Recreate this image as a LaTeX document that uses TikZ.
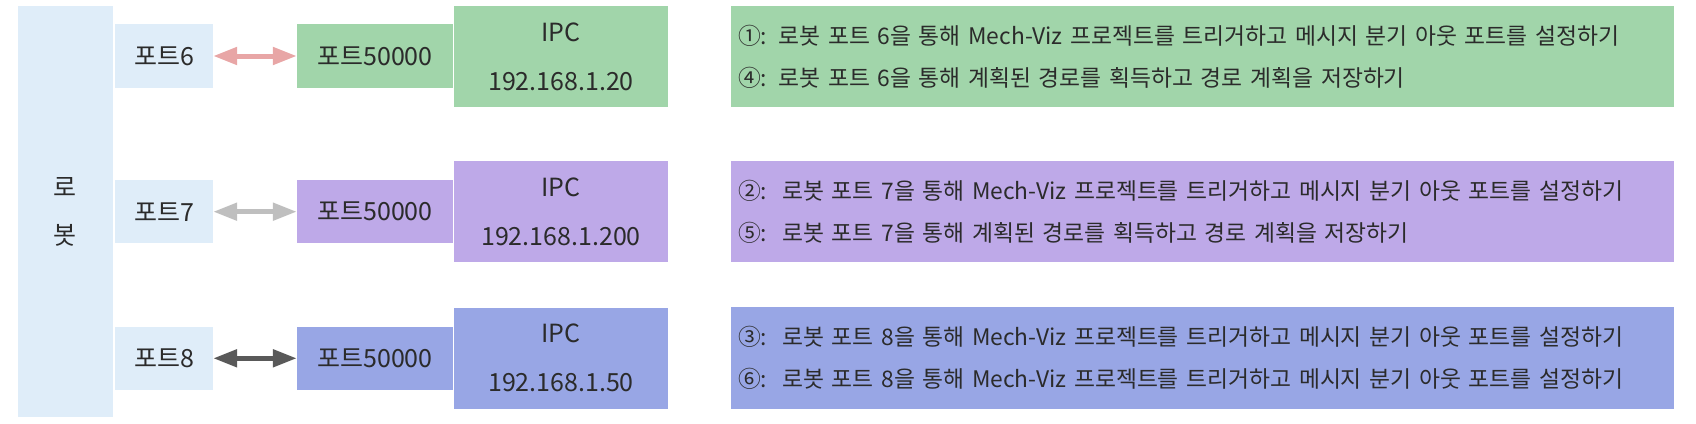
\documentclass[tikz,border=0pt]{standalone}
\usepackage{fontspec}
\setmainfont{Noto Sans CJK KR}
\usetikzlibrary{arrows.meta}
\definecolor{lightbox}{HTML}{DFEDF9}
\definecolor{greenbox}{HTML}{A1D5AA}
\definecolor{purplebox}{HTML}{BEA9E8}
\definecolor{bluebox}{HTML}{98A6E5}
\definecolor{pinkarrow}{HTML}{E8A6A6}
\definecolor{greyarrow}{HTML}{BFBFBF}
\definecolor{darkarrow}{HTML}{595959}
\definecolor{txt}{HTML}{2B2B2B}
\begin{document}
\begin{tikzpicture}[x=1pt,y=-1pt,
  basebox/.style={rectangle, inner sep=0pt, text=txt, draw=none, align=center},
  robotbox/.style={basebox, fill=lightbox, minimum width=95.3pt, minimum height=411.6pt, font=\fontsize{25}{48}\selectfont},
  portbox/.style={basebox, fill=lightbox, minimum width=98pt, minimum height=63.5pt, font=\fontsize{25}{30}\selectfont},
  kbox/.style={basebox, minimum width=156pt, minimum height=63.5pt, font=\fontsize{25}{30}\selectfont},
  ipcbox/.style={basebox, minimum width=214pt, minimum height=101.3pt, font=\fontsize{25}{49}\selectfont},
  descbox/.style={rectangle, draw=none, text=txt, inner xsep=7pt, inner ysep=0pt, text width=929pt, align=left, minimum height=101.3pt, font=\fontsize{22.8}{42}\selectfont},
  link/.style={line width=5pt, {Triangle[width=17pt,length=24pt]}-{Triangle[width=17pt,length=24pt]}}
]
\useasboundingbox (0,0) rectangle (1696,423);

\node[robotbox] (robot) at (65.35,211.5) {로\\봇};

\node[portbox] (p6) at (164,56) {포트6};
\node[portbox] (p7) at (164,211.7) {포트7};
\node[portbox] (p8) at (164,358.3) {포트8};

\node[kbox, fill=greenbox] (k6) at (375,56) {포트50000};
\node[kbox, fill=purplebox] (k7) at (375,211.7) {포트50000};
\node[kbox, fill=bluebox] (k8) at (375,358.3) {포트50000};

\node[ipcbox, fill=greenbox] (ipc1) at (561,56.35) {IPC\\192.168.1.20};
\node[ipcbox, fill=purplebox] (ipc2) at (561,211.7) {IPC\\192.168.1.200};
\node[ipcbox, fill=bluebox] (ipc3) at (561,358.2) {IPC\\192.168.1.50};

\node[descbox, fill=greenbox] (d1) at (1202.5,56.35) {①: 로봇 포트 6을 통해 Mech-Viz 프로젝트를 트리거하고 메시지 분기 아웃 포트를 설정하기\\④: 로봇 포트 6을 통해 계획된 경로를 획득하고 경로 계획을 저장하기};
\node[descbox, fill=purplebox] (d2) at (1202.5,211.5) {②:~~로봇 포트 7을 통해 Mech-Viz 프로젝트를 트리거하고 메시지 분기 아웃 포트를 설정하기\\⑤:~~로봇 포트 7을 통해 계획된 경로를 획득하고 경로 계획을 저장하기};
\node[descbox, fill=bluebox] (d3) at (1202.5,358) {③:~~로봇 포트 8을 통해 Mech-Viz 프로젝트를 트리거하고 메시지 분기 아웃 포트를 설정하기\\⑥:~~로봇 포트 8을 통해 Mech-Viz 프로젝트를 트리거하고 메시지 분기 아웃 포트를 설정하기};

\draw[link, pinkarrow] (p6.east) -- (k6.west);
\draw[link, greyarrow] (p7.east) -- (k7.west);
\draw[link, darkarrow] (p8.east) -- (k8.west);
\end{tikzpicture}
\end{document}
